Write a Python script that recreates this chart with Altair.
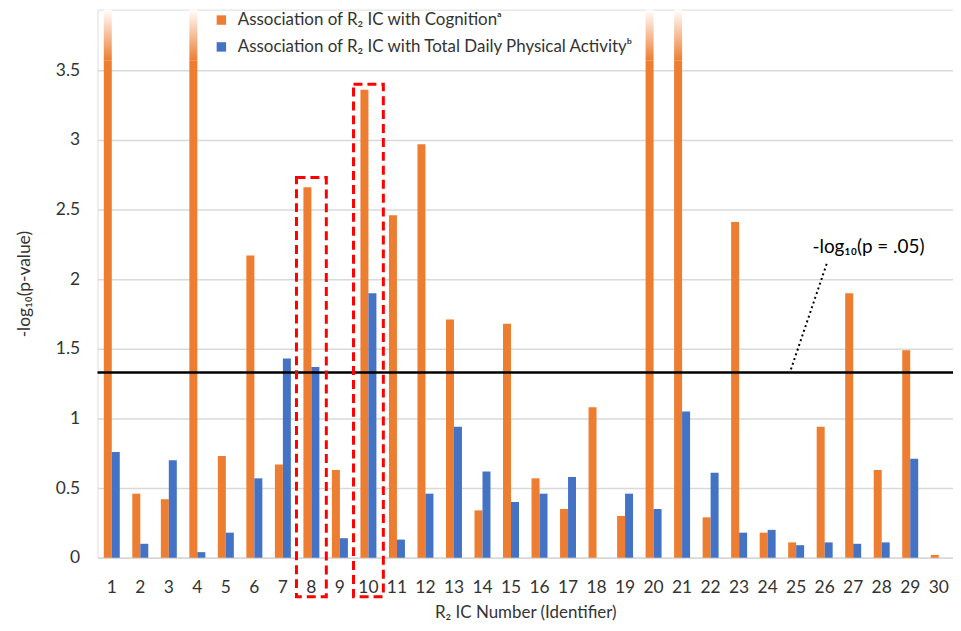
import altair as alt
import pandas as pd

# ---- data ----
ids = list(range(1, 31))
# values above the top of the axis (ICs 1, 4, 20, 21) are drawn clipped with a fade; stored as 4.0
cognition = [4.0, 0.46, 0.42, 4.0, 0.73, 2.17, 0.67, 2.66, 0.63, 3.36,
             2.46, 2.97, 1.71, 0.34, 1.68, 0.57, 0.35, 1.08, 0.30, 4.0,
             4.0, 0.29, 2.41, 0.18, 0.11, 0.94, 1.90, 0.63, 1.49, 0.02]
activity = [0.76, 0.10, 0.70, 0.04, 0.18, 0.57, 1.43, 1.37, 0.14, 1.90,
            0.13, 0.46, 0.94, 0.62, 0.40, 0.46, 0.58, 0.00, 0.46, 0.35,
            1.05, 0.61, 0.18, 0.20, 0.09, 0.11, 0.10, 0.11, 0.71, 0.00]
series_names = ["Association of R\u2082 IC with Cognition\u1d43",
                "Association of R\u2082 IC with Total Daily Physical Activity\u1d47"]
series_colors = ["#ED7D31", "#4472C4"]
threshold = [1.33]
threshold_label = ["-log\u2081\u2080(p = .05)"]
highlight_ids = [8, 10]
highlight_tops = [2.73, 3.40]
highlight_bottom = -0.28
y_ticks = [0, 0.5, 1, 1.5, 2, 2.5, 3, 3.5]
y_max = 3.936
fade_start = 3.57

FONT = "Lato"
TXT = "#333333"

rows = []
for i, c, a in zip(ids, cognition, activity):
    rows.append({"ic": i, "series": series_names[0], "value": c})
    rows.append({"ic": i, "series": series_names[1], "value": a})
df = pd.DataFrame(rows)

df_box = pd.DataFrame({"ic": highlight_ids, "top": highlight_tops,
                       "bottom": [highlight_bottom] * len(highlight_ids)})
df_thr = pd.DataFrame({"thr": threshold, "label": threshold_label})

y_scale = alt.Scale(domain=[0, y_max], nice=False, zero=False)
x_enc = alt.X("ic:O", scale=alt.Scale(paddingInner=0.44, paddingOuter=0.22),
              axis=alt.Axis(title="R\u2082 IC Number (Identifier)", labelAngle=0,
                            labelFontSize=17.5, labelColor=TXT, labelFont=FONT,
                            labelPadding=21, ticks=False, domain=True,
                            domainColor="#d9d9d9", domainWidth=1.5,
                            titleFontSize=17, titleFont=FONT, titleColor=TXT,
                            titleFontWeight="normal", titlePadding=9, grid=False))

base = alt.Chart(df)

bars = base.mark_bar().transform_calculate(
    shown=f"min(datum.value, {fade_start})"
).encode(
    x=x_enc,
    xOffset=alt.XOffset("series:N", sort=series_names, scale=alt.Scale(paddingInner=0, paddingOuter=0)),
    y=alt.Y("shown:Q", scale=y_scale,
            axis=alt.Axis(values=y_ticks, format=".1~f", title="-log\u2081\u2080(p-value)",
                          grid=True, gridColor="#d9d9d9", gridWidth=1.5, domain=False, ticks=False,
                          labelFontSize=17.5, labelColor=TXT, labelFont=FONT, labelPadding=18,
                          titleFontSize=17.5, titleFont=FONT, titleColor=TXT,
                          titleFontWeight="normal", titlePadding=22)),
    color=alt.Color("series:N", scale=alt.Scale(domain=series_names, range=series_colors),
                    legend=alt.Legend(title=None, orient="none", legendX=116, legendY=2,
                                      symbolType="square", symbolSize=90, symbolStrokeWidth=0,
                                      labelFontSize=17, labelFont=FONT, labelColor=TXT,
                                      labelOffset=8, rowPadding=9, padding=0, labelLimit=700)),
)

fade = base.mark_bar(
    color=alt.LinearGradient(gradient="linear",
                             stops=[alt.GradientStop(offset=0, color=series_colors[0]),
                                    alt.GradientStop(offset=1, color="#ffffff")],
                             x1=0, x2=0, y1=1, y2=0)
).transform_filter(
    f"datum.value > {y_max}"
).transform_calculate(
    y0=f"{fade_start}", y1=f"{y_max}"
).encode(
    x=x_enc,
    xOffset=alt.XOffset("series:N", sort=series_names, scale=alt.Scale(paddingInner=0, paddingOuter=0)),
    y=alt.Y("y0:Q", scale=y_scale),
    y2="y1:Q",
)

thr_line = alt.Chart(df_thr).mark_rule(color="black", strokeWidth=2.5).encode(
    y=alt.Y("thr:Q", scale=y_scale)
)

thr_text = alt.Chart(df_thr).mark_text(font=FONT, fontSize=19, color="black", align="center",
                                       baseline="middle").transform_calculate(
    ty="2.23"
).encode(x=alt.value(775), y=alt.Y("ty:Q", scale=y_scale), text="label:N")

leader = alt.Chart(df_thr).mark_rule(color="black", strokeWidth=2, strokeDash=[2, 3]).transform_calculate(
    ty="2.11"
).encode(x=alt.value(733), x2=alt.value(696), y=alt.Y("ty:Q", scale=y_scale), y2="thr:Q")

boxes = alt.Chart(df_box).mark_bar(width=30, fillOpacity=0, stroke="#ff0000", strokeWidth=3,
                                   strokeDash=[9, 5], clip=False).encode(
    x=x_enc,
    y=alt.Y("top:Q", scale=y_scale),
    y2="bottom:Q",
)

chart = alt.layer(bars, fade, thr_line, thr_text, leader, boxes).properties(
    width=860, height=551,
    autosize=alt.AutoSizeParams(type="none"),
    padding={"left": 90, "top": 0, "right": 0, "bottom": 64},
).configure_view(stroke=None).configure(font=FONT)

chart.save("out.html", embed_options={"renderer": "svg", "actions": False})
